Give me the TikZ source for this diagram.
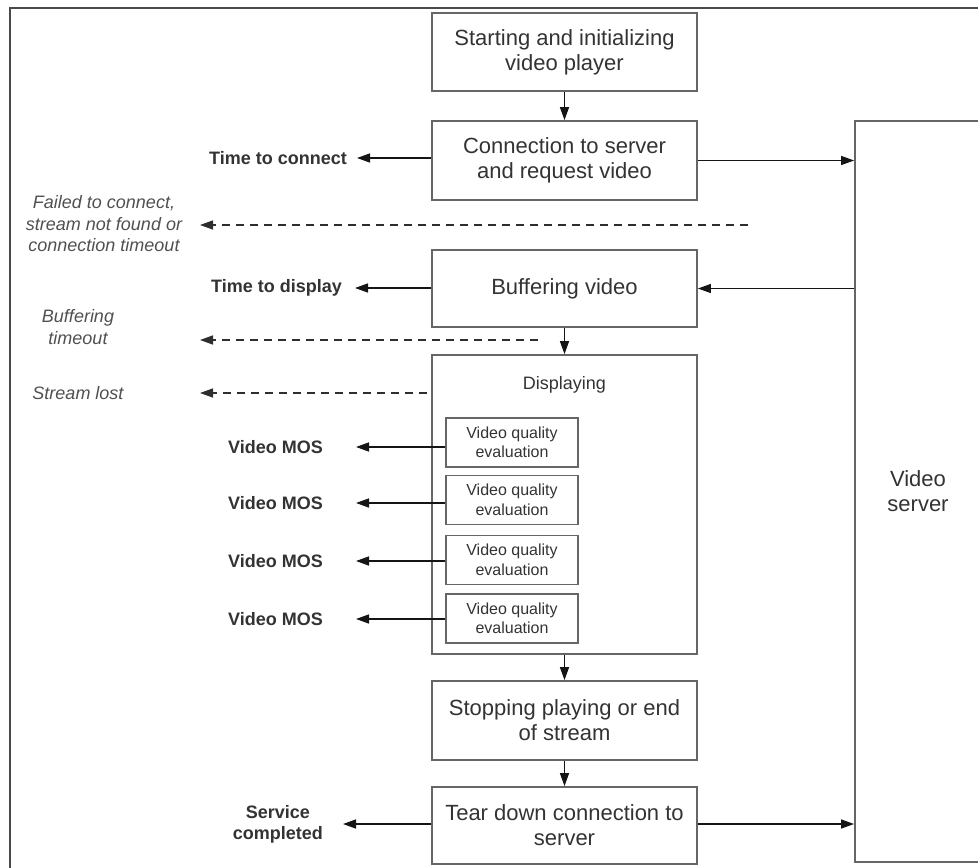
\documentclass[tikz,border=0pt]{standalone}
\usepackage{fontspec}
\setmainfont{Liberation Sans}
\usetikzlibrary{arrows.meta}
\definecolor{linec}{HTML}{666666}
\definecolor{framec}{HTML}{4A4A4A}
\definecolor{txtc}{HTML}{333333}
\definecolor{itc}{HTML}{505050}
\definecolor{arrc}{HTML}{151515}
\definecolor{dashc}{HTML}{2E2E2E}
\begin{document}
\begin{tikzpicture}[x=1pt,y=-1pt,
  box/.style={draw=linec, line width=1.8pt, minimum width=265pt, text=txtc, align=center,
    font=\fontsize{22}{25}\selectfont, inner sep=0pt},
  vq/.style={draw=linec, line width=1.5pt, minimum width=132pt, minimum height=49pt, text=txtc,
    align=center, font=\fontsize{16}{19.5}\selectfont, inner sep=0pt},
  lbl/.style={font=\fontsize{18}{21}\selectfont\bfseries, text=txtc, align=center, inner ysep=0pt, anchor=east},
  itl/.style={font=\fontsize{18}{21.5}\selectfont\itshape, text=itc, align=center, inner sep=0pt},
  arr/.style={-{Triangle[length=13pt,width=9pt]}, line width=1.4pt, draw=arrc},
  darr/.style={arr, draw=dashc, dash pattern=on 8pt off 6pt}]
\useasboundingbox (0,0) rectangle (978,868);
% outer frame (right and bottom edges lie outside the picture)
\draw[framec, line width=2.5pt] (10,868) -- (10,8) -- (978,8);
% main column
\node[box, minimum height=78pt] (b1) at (564.5,52) {Starting and initializing\\video player};
\node[box, minimum height=79pt] (b2) at (564.5,160.5) {Connection to server\\and request video};
\node[box, minimum height=77pt] (b3) at (564.5,288.5) {Buffering video};
\node[box, minimum height=299pt] (disp) at (564.5,504.5) {};
\node[font=\fontsize{18}{21}\selectfont, text=txtc] (dtitle) at (564.5,385) {Displaying};
\node[vq] (vq1) at (512,442.5) {Video quality\\evaluation};
\node[vq] (vq2) at (512,500) {Video quality\\evaluation};
\node[vq] (vq3) at (512,560) {Video quality\\evaluation};
\node[vq] (vq4) at (512,618.5) {Video quality\\evaluation};
\node[box, minimum height=79pt] (b5) at (564.5,720.5) {Stopping playing or end\\of stream};
\node[box, minimum height=77pt] (b6) at (564.5,825.5) {Tear down connection to\\server};
% server
\node[box, minimum width=126pt, minimum height=741pt] (srv) at (918,491.5) {Video\\server};
% flow arrows
\draw[arr] (b1.south) -- (b2.north);
\draw[arr] (b3.south) -- (disp.north);
\draw[arr] (disp.south) -- (b5.north);
\draw[arr] (b5.south) -- (b6.north);
\draw[arr] (b2.east) -- (b2.east -| srv.west);
\draw[arr] (srv.west |- b3.east) -- (b3.east);
\draw[arr] (b6.east |- 0,824) -- (srv.west |- 0,824);
% measurement labels
\node[lbl, inner xsep=10pt] (tconn) at (357,158) {Time to connect};
\node[lbl, inner xsep=13pt] (tdisp) at (355,288) {Time to display};
\node[lbl, inner xsep=33pt] (mos1) at (356,447) {Video MOS};
\node[lbl, inner xsep=33pt] (mos2) at (356,503) {Video MOS};
\node[lbl, inner xsep=33pt] (mos3) at (356,561) {Video MOS};
\node[lbl, inner xsep=33pt] (mos4) at (356,619) {Video MOS};
\node[lbl, inner xsep=20pt] (done) at (343,824) {Service\\completed};
\draw[arr] (b2.west |- tconn.east) -- (tconn.east);
\draw[arr] (b3.west |- tdisp.east) -- (tdisp.east);
\draw[arr] (vq1.west |- mos1.east) -- (mos1.east);
\draw[arr] (vq2.west |- mos2.east) -- (mos2.east);
\draw[arr] (vq3.west |- mos3.east) -- (mos3.east);
\draw[arr] (vq4.west |- mos4.east) -- (mos4.east);
\draw[arr] (b6.west |- done.east) -- (done.east);
% failure labels
\node[itl] (fail) at (104,224) {Failed to connect,\\stream not found or\\connection timeout};
\node[itl] (btime) at (78,327) {Buffering\\timeout};
\node[itl] (slost) at (78,393) {Stream lost};
\coordinate (f1) at (748,225);
\coordinate (f2) at (200,225);
\coordinate (t1) at (538,340);
\coordinate (t2) at (200,340);
\coordinate (s1) at (427,393);
\coordinate (s2) at (200,393);
\draw[darr] (f1) -- (f2);
\draw[darr] (t1) -- (t2);
\draw[darr] (s1) -- (s2);
\end{tikzpicture}
\end{document}
